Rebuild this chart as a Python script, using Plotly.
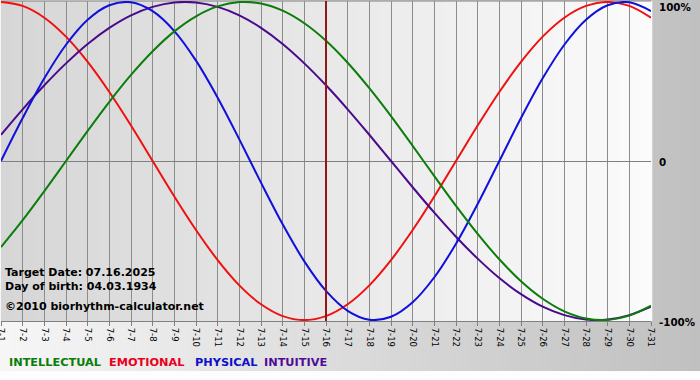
import plotly.graph_objects as go

# ---- data (percent values read per day, 7-1 .. 7-31) ----
days = list(range(1, 32))
tick_labels = [f"7-{d}" for d in days]
target_day = 16

intellectual = [-54.1, -37.2, -18.9, 0.0, 18.9, 37.2, 54.1, 69.0, 81.5, 91.0,
                97.2, 99.9, 99.0, 94.5, 86.6, 75.6, 61.8, 45.8, 28.2, 9.5,
                -9.5, -28.2, -45.8, -61.8, -75.6, -86.6, -94.5, -99.0, -99.9, -97.2,
                -91.0]
emotional = [100.0, 97.5, 90.1, 78.2, 62.3, 43.4, 22.3, 0.0, -22.3, -43.4,
             -62.3, -78.2, -90.1, -97.5, -100.0, -97.5, -90.1, -78.2, -62.3, -43.4,
             -22.3, 0.0, 22.3, 43.4, 62.3, 78.2, 90.1, 97.5, 100.0, 97.5,
             90.1]
physical = [0.0, 27.0, 52.0, 73.1, 88.8, 97.9, 99.8, 94.2, 81.7, 63.1,
            39.8, 13.6, -13.6, -39.8, -63.1, -81.7, -94.2, -99.8, -97.9, -88.8,
            -73.1, -52.0, -27.0, 0.0, 27.0, 52.0, 73.1, 88.8, 97.9, 99.8,
            94.2]
intuitive = [16.5, 32.5, 47.6, 61.4, 73.6, 83.7, 91.6, 96.9, 99.7, 99.7,
             96.9, 91.6, 83.7, 73.6, 61.4, 47.6, 32.5, 16.5, 0.0, -16.5,
             -32.5, -47.6, -61.4, -73.6, -83.7, -91.6, -96.9, -99.7, -99.7, -96.9,
             -91.6]

series = [
    ("EMOTIONAL", emotional, "#f01010"),
    ("INTUITIVE", intuitive, "#4b0a8c"),
    ("PHYSICAL", physical, "#1010dc"),
    ("INTELLECTUAL", intellectual, "#0a7d0a"),
]
legend_order = [("INTELLECTUAL", "#0a7d0a", 0.0092),
                ("EMOTIONAL", "#e8001c", 0.163),
                ("PHYSICAL", "#1010c8", 0.295),
                ("INTUITIVE", "#500c96", 0.4015)]

fig = go.Figure()
for name, vals, col in series:
    fig.add_trace(go.Scatter(x=days, y=vals, mode="lines", name=name,
                             line=dict(color=col, width=2, shape="spline"),
                             hoverinfo="skip", cliponaxis=True))

# ---- background gradients (paper coords) ----
W, H = 700, 380
L, T, PW, PH = 1, 1, 650, 320
def px2x(px):
    return (px - L) / PW
def py2y(py):
    return (T + PH - py) / PH
def mix(c1, c2, f):
    return "rgb(%d,%d,%d)" % tuple(round(a + (b - a) * f) for a, b in zip(c1, c2))

shapes = []
N = 70
for i in range(N):
    f = i / (N - 1)
    shapes.append(dict(type="rect", xref="paper", yref="paper", layer="below",
                       x0=px2x(W * i / N), x1=px2x(W * (i + 1) / N + 0.5),
                       y0=py2y(371), y1=py2y(0), line=dict(width=0),
                       fillcolor=mix((246, 246, 246), (192, 192, 192), f)))
shapes.append(dict(type="rect", xref="paper", yref="paper", layer="below",
                   x0=px2x(0), x1=px2x(W), y0=py2y(H), y1=py2y(371),
                   line=dict(width=0), fillcolor="#fdfdfd"))
M = 60
for i in range(M):
    f = i / (M - 1)
    shapes.append(dict(type="rect", xref="paper", yref="paper", layer="below",
                       x0=i / M, x1=(i + 1) / M + 0.002, y0=0, y1=1,
                       line=dict(width=0),
                       fillcolor=mix((214, 214, 214), (251, 251, 251), f)))
# top border
shapes.append(dict(type="line", xref="paper", yref="paper", layer="below",
                   x0=0, x1=1, y0=1, y1=1, line=dict(color="#808080", width=1)))
# target date marker
shapes.append(dict(type="line", xref="x", yref="paper", layer="above",
                   x0=target_day, x1=target_day, y0=0, y1=1,
                   line=dict(color="#901818", width=2)))

bold = dict(family="DejaVu Sans", size=11, color="black", weight="bold")
ann = []
for txt, yy in [("Target Date: 07.16.2025", 0.153),
                ("Day of birth: 04.03.1934", 0.109),
                ("©2010 biorhythm-calculator.net", 0.044)]:
    ann.append(dict(text=txt, xref="paper", yref="paper", x=0.003, y=yy,
                    xanchor="left", yanchor="middle", showarrow=False, font=bold))
for name, col, xx in legend_order:
    ann.append(dict(text=name, xref="paper", yref="paper", x=xx, y=py2y(362),
                    xanchor="left", yanchor="middle", showarrow=False,
                    font=dict(family="DejaVu Sans", size=11.3, color=col, weight="bold")))
for txt, py in [("100%", 7), ("0", 162), ("-100%", 322)]:
    ann.append(dict(text=txt, xref="paper", yref="paper", x=px2x(657), y=py2y(py),
                    xanchor="left", yanchor="middle", showarrow=False,
                    font=dict(family="DejaVu Sans", size=10.3, color="black", weight="bold")))

fig.update_layout(
    width=W, height=H,
    margin=dict(l=L, r=W - L - PW, t=T, b=H - T - PH, pad=0, autoexpand=False),
    paper_bgcolor="white", plot_bgcolor="rgba(0,0,0,0)",
    showlegend=False, hovermode=False,
    shapes=shapes, annotations=ann,
    xaxis=dict(range=[1, 31], tickvals=days, ticktext=tick_labels,
               tickangle=90, showgrid=True, gridcolor="#8c8c8c", gridwidth=1,
               showline=True, linecolor="#808080", linewidth=1,
               ticks="outside", ticklen=4, tickcolor="#808080",
               tickfont=dict(family="DejaVu Sans", size=8.5, color="black"),
               ticklabeloverflow="allow",
               zeroline=False, fixedrange=True, automargin=False),
    yaxis=dict(range=[-100.6, 100.6], showgrid=False, showticklabels=False,
               zeroline=True, zerolinecolor="#808080", zerolinewidth=1,
               fixedrange=True, automargin=False),
)

fig.write_html("out.html", config={"displayModeBar": False},
               post_script="document.body.style.margin='0';document.body.style.overflow='hidden';")
